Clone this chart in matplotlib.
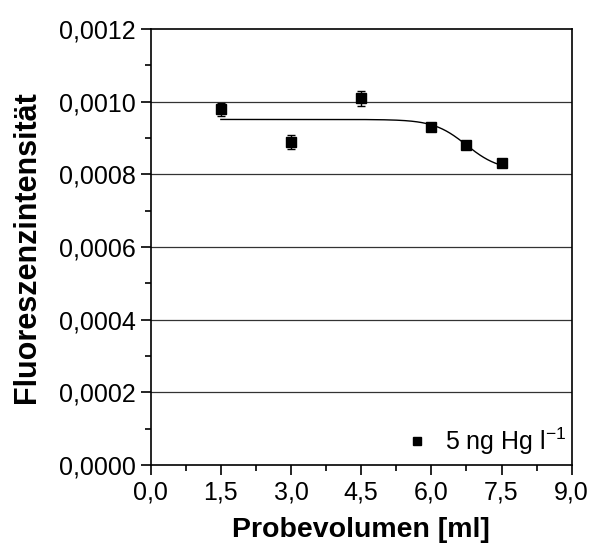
import numpy as np
import matplotlib
matplotlib.use("Agg")
import matplotlib.pyplot as plt
from matplotlib.lines import Line2D
from matplotlib.ticker import MultipleLocator, FuncFormatter

plt.rcParams['font.family'] = ['Liberation Sans', 'DejaVu Sans']
plt.rcParams['mathtext.fontset'] = 'custom'
plt.rcParams['mathtext.rm'] = 'Liberation Sans'

# Measured fluorescence intensity vs. sample volume
volume_ml = [1.5, 3.0, 4.5, 6.0, 6.75, 7.5]
intensity = [0.000979, 0.000889, 0.001009, 0.000930, 0.000880, 0.000830]
intensity_err = [0.000018, 0.000018, 0.000021, 0.000005, 0.000005, 0.000005]

# Boltzmann fit parameters (A1, A2, x0, dx)
fit_A1 = 0.000951
fit_A2 = 0.000810
fit_x0 = 6.75
fit_dx = 0.35

x_ticks = [0.0, 1.5, 3.0, 4.5, 6.0, 7.5, 9.0]
y_ticks = [0.0, 0.0002, 0.0004, 0.0006, 0.0008, 0.0010, 0.0012]

fig = plt.figure(figsize=(5.94, 5.53), dpi=100)
ax = fig.add_axes([0.2537, 0.1591, 0.9625 - 0.2537, 0.9476 - 0.1591])

# horizontal grid at major y ticks
for yv in y_ticks[1:-1]:
    ax.axhline(yv, color='#333333', lw=0.9, zorder=1)

xf = np.linspace(volume_ml[0], volume_ml[-1], 300)
yf = fit_A2 + (fit_A1 - fit_A2) / (1 + np.exp((xf - fit_x0) / fit_dx))
ax.plot(xf, yf, color='black', lw=1.0, zorder=2)

ax.errorbar(volume_ml, intensity, yerr=intensity_err, fmt='s', color='black',
            ms=6.5, capsize=3, elinewidth=1, capthick=1, zorder=3)

ax.set_xlim(0, 9)
ax.set_ylim(0, 0.0012)
ax.set_xticks(x_ticks)
ax.set_yticks(y_ticks)
ax.xaxis.set_minor_locator(MultipleLocator(0.75))
ax.yaxis.set_minor_locator(MultipleLocator(0.0001))
ax.xaxis.set_major_formatter(FuncFormatter(lambda v, p: f"{v:.1f}".replace('.', ',')))
ax.yaxis.set_major_formatter(FuncFormatter(lambda v, p: f"{v:.4f}".replace('.', ',')))

ax.tick_params(which='both', direction='out', top=False, right=False,
               labelsize=18, width=1.2, color='black')
ax.tick_params(which='major', length=7, pad=4)
ax.tick_params(which='minor', length=4)
for s in ax.spines.values():
    s.set_linewidth(1.2)

ax.set_xlabel('Probevolumen [ml]', fontsize=20.5, fontweight='bold', labelpad=9)
ax.set_ylabel('Fluoreszenzintensität', fontsize=22, fontweight='bold', labelpad=12)

handle = Line2D([], [], marker='s', color='black', ls='none', ms=6)
ax.legend([handle], ['5 ng Hg l$^{-1}$'], loc='lower right', frameon=False,
          fontsize=18, handletextpad=0.6, borderaxespad=0.0, handlelength=1.0,
          bbox_to_anchor=(1.01, -0.005))

fig.savefig('out.png', dpi=100)
